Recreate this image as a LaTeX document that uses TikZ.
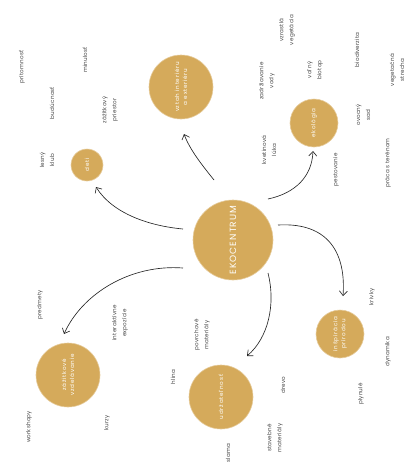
\documentclass[tikz,border=0pt]{standalone}
\usepackage{fontspec}
\setmainfont{Poppins}
\usetikzlibrary{arrows.meta}
\definecolor{gold}{HTML}{D5AA5B}
\definecolor{lbl}{HTML}{454545}
\begin{document}
\begin{tikzpicture}[x=1pt,y=-1pt,
  hub/.style={circle,fill=gold,draw=gold!60!white,line width=0.6pt,inner sep=0pt,text=white,rotate=90,align=center,
    font=\fontsize{5.6}{8}\selectfont\addfontfeatures{LetterSpace=14}},
  lab/.style={rotate=90,align=center,text=lbl,inner sep=0pt,
    font=\fontsize{5.6}{10}\selectfont\addfontfeatures{LetterSpace=4}},
  arr/.style={-{Straight Barb[length=4.5pt,width=8pt]},line width=0.65pt,draw=black!85}
]
\useasboundingbox (0,0) rectangle (410,475);

% circles
\node[hub,minimum size=80pt,font=\fontsize{9}{10}\selectfont\addfontfeatures{LetterSpace=12}] (main) at (233,240) {EKOCENTRUM};
\node[hub,minimum size=64pt] (vztah) at (181,87) {vztah interiéru\\a exteriéru};
\node[hub,minimum size=32pt] (deti) at (87,165) {deti};
\node[hub,minimum size=48pt] (eko) at (314,123) {ekológia};
\node[hub,minimum size=64pt] (zaz) at (68,375) {zážitkové\\vzdelávanie};
\node[hub,minimum size=64pt] (udr) at (221,397) {udržateľnosť};
\node[hub,minimum size=48pt] (insp) at (340,334) {inšpirácia\\prírodou};

% arrow end points
\coordinate (s1) at (214,180); \coordinate (e1) at (184,134);
\coordinate (s2) at (183,229); \coordinate (e2) at (96,187);
\coordinate (s3) at (268,199); \coordinate (e3) at (313,151);
\coordinate (s4) at (278,225); \coordinate (e4) at (343,296);
\coordinate (s5) at (268,273); \coordinate (e5) at (247,356);
\coordinate (s6) at (183,268); \coordinate (e6) at (64,334);

\draw[arr] (s1) .. controls (202,165) and (190,150) .. (e1);
\draw[arr] (s2) .. controls (150,226) and (113,214) .. (e2);
\draw[arr] (s3) .. controls (296,193) and (312,176) .. (e3);
\draw[arr] (s4) .. controls (330,222) and (346,255) .. (e4);
\draw[arr] (s5) .. controls (276,305) and (268,338) .. (e5);
\draw[arr] (s6) .. controls (130,264) and (82,294) .. (e6);

% labels
\node[lab] (l1) at (22,67) {prítomnosť};
\node[lab] (l2) at (85,60) {minulosť};
\node[lab] (l3) at (52,103) {budúcnosť};
\node[lab] (l4) at (110,110) {zážitkový\\priestor};
\node[lab] (l5) at (47,160) {lesný\\klub};
\node[lab] (l6) at (287,30) {vzrastlá\\vegetácia};
\node[lab] (l7) at (267,81) {zadržiavanie\\vody};
\node[lab] (l8) at (315,70) {voľný\\biotop};
\node[lab] (l9) at (357,50) {biodiverzita};
\node[lab] (l10) at (397,70) {vegetačná\\strecha};
\node[lab] (l11) at (363,115) {ovocný\\sad};
\node[lab] (l12) at (269,150) {kvetinová\\lúka};
\node[lab] (l13) at (336,170) {pestovanie};
\node[lab] (l14) at (388,163) {práca s terénom};
\node[lab] (l15) at (40,305) {predmety};
\node[lab] (l16) at (120,323) {interaktívne\\expozície};
\node[lab] (l17) at (29,427) {workshopy};
\node[lab] (l18) at (107,423) {kurzy};
\node[lab] (l19) at (202,335) {povrchové\\materiály};
\node[lab] (l20) at (173,377) {hlina};
\node[lab] (l21) at (283,385) {drevo};
\node[lab] (l22) at (228,453) {slama};
\node[lab] (l23) at (275,438) {stavebné\\materiály};
\node[lab] (l24) at (372,297) {krivky};
\node[lab] (l25) at (388,352) {dynamika};
\node[lab] (l26) at (361,394) {plynulé};
\end{tikzpicture}
\end{document}
